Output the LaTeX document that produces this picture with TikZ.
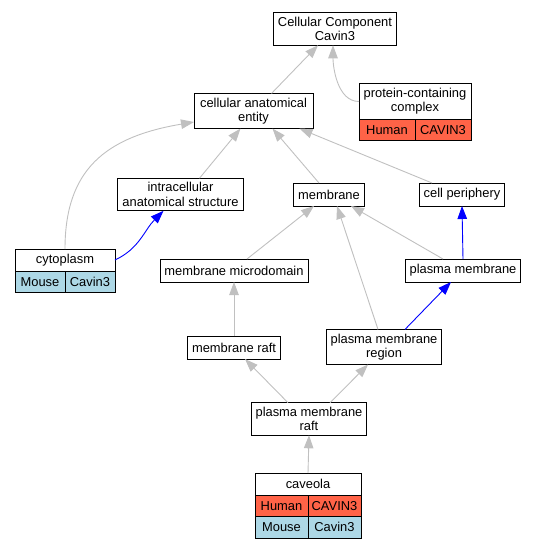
\documentclass[tikz,border=0pt]{standalone}
\usepackage{fontspec}
\setmainfont{Liberation Sans}
\usetikzlibrary{arrows.meta,positioning}
\definecolor{humanred}{HTML}{FF6347}
\definecolor{mouseblue}{HTML}{ADD8E6}
\definecolor{isagray}{HTML}{C0C0C0}
\definecolor{partblue}{HTML}{0000FF}
\begin{document}
\begin{tikzpicture}[x=1pt, y=-1pt,
    font=\fontsize{12.9}{14.3}\selectfont,
    term/.style={draw, line width=0.9pt, fill=white, align=center,
      inner xsep=4.5pt, inner ysep=4.4pt, minimum height=23pt, outer sep=0pt},
    cell/.style={draw, line width=0.9pt, minimum height=21.5pt,
      inner sep=0pt, outer sep=0pt, anchor=north west},
    human/.style={cell, fill=humanred},
    mouse/.style={cell, fill=mouseblue},
    isa/.style={draw=isagray, line width=0.9pt, -{Triangle[length=13pt,width=9.5pt]}},
    partof/.style={draw=partblue, line width=0.9pt, -{Triangle[length=13pt,width=9.5pt]}}]
  \useasboundingbox (0,0) rectangle (539,549);

  % Terms
  \node[term] (cc) at (335,29) {Cellular Component\\Cavin3};
  \node[term, minimum width=119pt] (cae) at (253.5,111) {cellular anatomical\\entity};
  \node[term, minimum width=112pt, minimum height=35pt] (pcc) at (415,101.5) {protein-containing\\complex};
  \node[term] (ias) at (180.5,194.5) {intracellular\\anatomical structure};
  \node[term] (mem) at (329,194.5) {membrane};
  \node[term] (cp) at (462,194.5) {cell periphery};
  \node[term, minimum width=100pt, minimum height=22pt] (cyto) at (65,260) {cytoplasm};
  \node[term] (mmd) at (234,270.5) {membrane microdomain};
  \node[term] (pm) at (463,270.5) {plasma membrane};
  \node[term] (mraft) at (234,347.5) {membrane raft};
  \node[term] (pmr) at (384,347) {plasma membrane\\region};
  \node[term] (pmraft) at (309,419) {plasma membrane\\raft};
  \node[term, minimum width=106pt, minimum height=22pt] (cav) at (308,484) {caveola};

  % Annotation cells
  \node[human, minimum width=56pt] (pccH) at (pcc.south west) {Human};
  \node[human, minimum width=56pt] (pccG) at (pccH.north east) {CAVIN3};
  \node[mouse, minimum width=50pt] (cytoM) at (cyto.south west) {Mouse};
  \node[mouse, minimum width=50pt] (cytoG) at (cytoM.north east) {Cavin3};
  \node[human, minimum width=53pt] (cavH) at (cav.south west) {Human};
  \node[human, minimum width=53pt] (cavHG) at (cavH.north east) {CAVIN3};
  \node[mouse, minimum width=53pt] (cavM) at (cavH.south west) {Mouse};
  \node[mouse, minimum width=53pt] (cavMG) at (cavM.north east) {Cavin3};

  % is_a edges
  \draw[isa] ([xshift=18pt]cae.north) -- ([xshift=-17pt]cc.south);
  \draw[isa] (pcc.west) to[out=180, in=-90, looseness=0.9] ([xshift=-2pt]cc.south);
  \draw[isa] ([xshift=19pt]ias.north) -- ([xshift=-13pt]cae.south);
  \draw[isa] (cyto.north) .. controls (65,170) and (105,137) .. ([yshift=-11pt]cae.west);
  \draw[isa] ([xshift=-10pt]mem.north) -- ([xshift=19pt]cae.south);
  \draw[isa] ([xshift=-30pt]cp.north) -- ([xshift=46pt]cae.south);
  \draw[isa] ([xshift=13pt]mmd.north) -- ([xshift=-15pt]mem.south);
  \draw[isa] ([xshift=-20pt]pm.north) -- ([xshift=22pt]mem.south);
  \draw[isa] ([xshift=-6pt]pmr.north) -- ([xshift=8pt]mem.south);
  \draw[isa] (mraft.north) -- (mmd.south);
  \draw[isa] ([xshift=-21pt]pmraft.north) -- ([xshift=11pt]mraft.south);
  \draw[isa] ([xshift=21pt]pmraft.north) -- ([xshift=-16pt]pmr.south);
  \draw[isa] (cav.north) -- (pmraft.south);

  % part_of edges
  \draw[partof] (cyto.east) to[out=25, in=-135] ([xshift=-17pt]ias.south);
  \draw[partof] (pm.north) -- (cp.south);
  \draw[partof] ([xshift=21pt]pmr.north) -- ([xshift=-12pt]pm.south);
\end{tikzpicture}
\end{document}
